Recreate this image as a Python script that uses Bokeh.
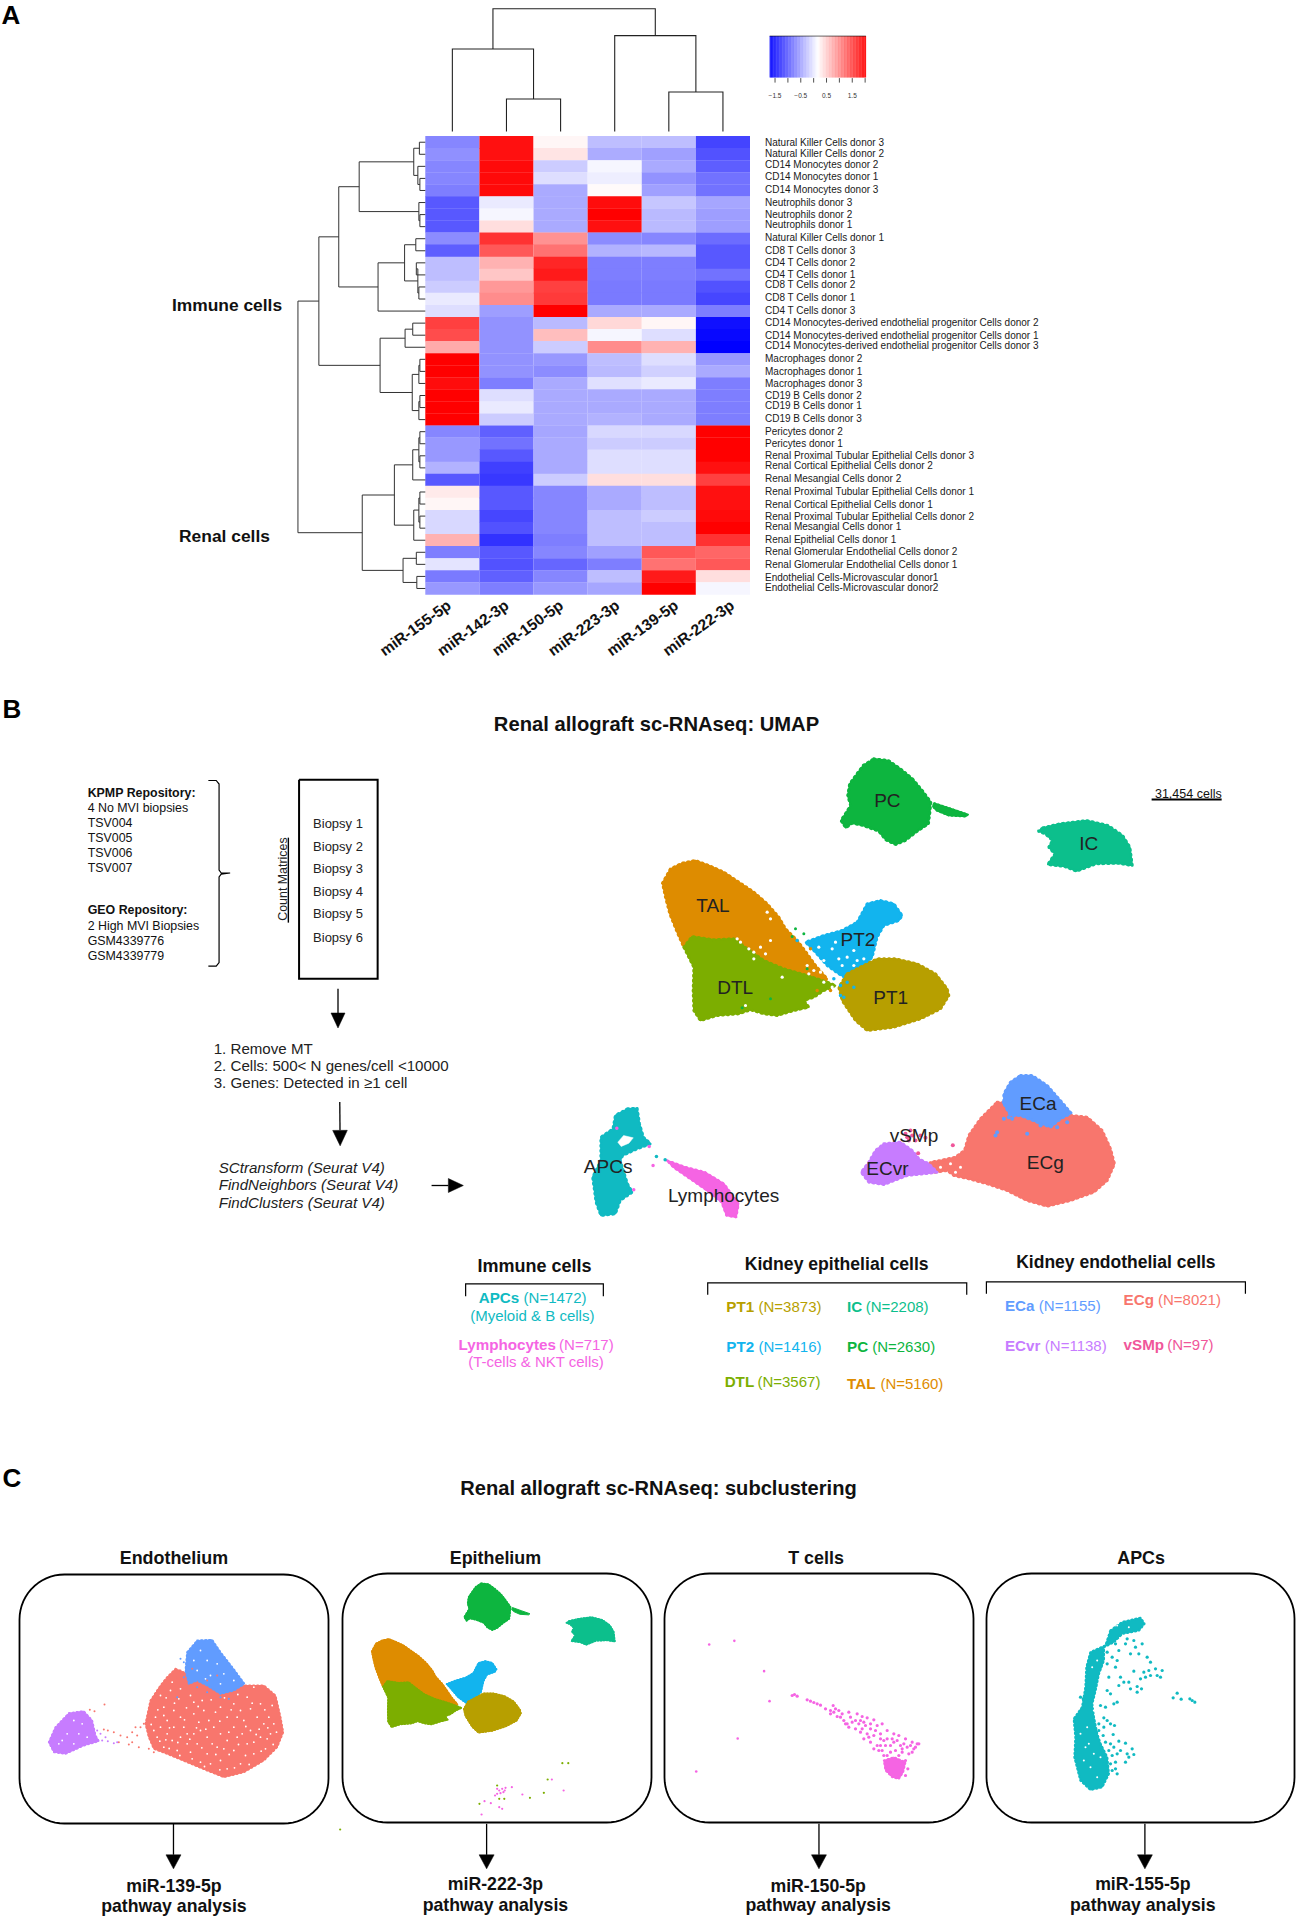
from bokeh.plotting import figure
from bokeh.models import Range1d, LinearColorMapper
from bokeh.core.properties import value
from bokeh.transform import transform
from bokeh.embed import file_html
from bokeh.resources import INLINE
import numpy as np

# ---------- DATA: heatmap ----------
col_labels = ["miR-155-5p", "miR-142-3p", "miR-150-5p", "miR-223-3p", "miR-139-5p", "miR-222-3p"]
row_labels = [
    "Natural Killer Cells donor 3", "Natural Killer Cells donor 2", "CD14 Monocytes donor 2", "CD14 Monocytes donor 1",
    "CD14 Monocytes donor 3", "Neutrophils donor 3", "Neutrophils donor 2", "Neutrophils donor 1",
    "Natural Killer Cells donor 1", "CD8 T Cells donor 3", "CD4 T Cells donor 2", "CD4 T Cells donor 1",
    "CD8 T Cells donor 2", "CD8 T Cells donor 1", "CD4 T Cells donor 3",
    "CD14 Monocytes-derived endothelial progenitor Cells donor 2",
    "CD14 Monocytes-derived endothelial progenitor Cells donor 1",
    "CD14 Monocytes-derived endothelial progenitor Cells donor 3",
    "Macrophages donor 2", "Macrophages donor 1", "Macrophages donor 3", "CD19 B Cells donor 2", "CD19 B Cells donor 1",
    "CD19 B Cells donor 3", "Pericytes donor 2", "Pericytes donor 1", "Renal Proximal Tubular Epithelial Cells donor 3",
    "Renal Cortical Epithelial Cells donor 2", "Renal Mesangial Cells donor 2",
    "Renal Proximal Tubular Epithelial Cells donor 1", "Renal Cortical Epithelial Cells donor 1",
    "Renal Proximal Tubular Epithelial Cells donor 2", "Renal Mesangial Cells donor 1", "Renal Epithelial Cells donor 1",
    "Renal Glomerular Endothelial Cells donor 2", "Renal Glomerular Endothelial Cells donor 1",
    "Endothelial Cells-Microvascular donor1", "Endothelial Cells-Microvascular donor2"]
mir155 = [-0.72,-0.65,-0.72,-0.72,-0.78,-1.06,-1.06,-1.06,-0.68,-1.02,-0.31,-0.31,-0.21,0.01,-0.08,1.56,1.47,0.78,2.03,2.03,1.93,2.03,2.03,2.03,-0.72,-0.59,-0.59,-0.40,-1.06,0.31,0.22,-0.12,-0.12,0.72,-0.78,-0.03,-0.81,-0.59]
mir142 = [1.9,1.9,1.95,1.95,1.95,0.01,0.1,0.4,1.66,1.38,0.72,0.57,0.91,1.0,-0.55,-0.64,-0.64,-0.64,-0.64,-0.64,-0.78,-0.08,0.01,-0.21,-1.0,-0.87,-1.06,-1.24,-1.3,-1.06,-1.06,-1.19,-1.11,-1.34,-1.06,-1.11,-1.0,-0.78]
mir150 = [0.22,0.35,-0.21,-0.08,-0.46,-0.46,-0.46,-0.46,0.95,1.19,1.75,1.84,1.56,1.6,2.03,-0.35,0.63,-0.21,-0.59,-0.68,-0.46,-0.46,-0.46,-0.46,-0.49,-0.46,-0.46,-0.46,-0.21,-0.72,-0.72,-0.72,-0.72,-0.78,-0.72,-0.96,-0.72,-0.59]
mir223 = [-0.31,-0.44,0.1,0.03,0.2,1.93,2.03,1.9,-0.68,-0.40,-0.78,-0.78,-0.81,-0.81,-0.46,0.44,0.1,1.0,-0.31,-0.35,-0.06,-0.46,-0.46,-0.40,-0.12,-0.21,-0.08,-0.08,0.4,-0.46,-0.46,-0.31,-0.31,-0.31,-0.53,-0.78,-0.31,-0.49]
mir139 = [-0.31,-0.53,-0.46,-0.63,-0.53,-0.25,-0.35,-0.35,-0.72,-0.36,-0.78,-0.78,-0.81,-0.81,-0.46,0.22,-0.08,0.72,-0.08,-0.18,0.01,-0.46,-0.46,-0.46,-0.12,-0.21,-0.08,-0.08,0.4,-0.31,-0.31,-0.21,-0.31,-0.31,1.38,1.19,1.84,2.03]
mir222 = [-1.2,-1.1,-1.02,-0.87,-0.87,-0.49,-0.55,-0.55,-0.92,-1.06,-1.06,-0.87,-1.11,-1.19,-0.78,-1.58,-1.65,-1.71,-0.59,-0.46,-0.78,-0.78,-0.78,-0.78,2.03,2.03,2.03,1.9,1.56,1.9,1.9,1.95,2.03,1.66,1.28,1.38,0.4,0.1]
heat_cols = [mir155, mir142, mir150, mir223, mir139, mir222]
colorbar_ticks = [-1.5, -1.0, -0.5, 0.0, 0.5, 1.0, 1.5, 2.0]
colorbar_labels = {-1.5: "\u22121.5", -0.5: "\u22120.5", 0.5: "0.5", 1.5: "1.5"}

# dendrograms: (merge level, child, child); ints are leaves
col_tree = (19, (112, 0, (227, 1, 2)), (81, 3, (211, 4, 5)))
row_tree = (583,
    (624,
        (663,
            (703, (810, (821, 0, 1), (818, 2, (822, 3, 4))), (820, 5, (822, 6, 7))),
            (740, (792, (814, 8, 9), (818, (815, 10, 11), (820, 12, 13))), 14)),
        (744,
            (793, (808, 15, 16), 17),
            (807, (820, (822, 18, 19), 20), (820, (822, 21, 22), 23)))),
    (709,
        (772,
            (808, (820, (822, 24, 25), (822, 26, 27)), 28),
            (810, (820, (822, 29, 30), (822, 31, 32)), 33)),
        (789, (815, 34, 35), (816, 36, 37))))

# ---------- DATA: UMAP cluster outlines ----------
colors = dict(PC="#0DB53F", IC="#0CBF8C", TAL="#DE8C00", DTL="#7CAE00", PT1="#B79F00", PT2="#12B4EE",
              ECg="#F8766D", ECa="#619CFF", ECvr="#C77CFF", vSMp="#F0569A", APC="#10BAC2", LYM="#F564E3")
pc_outline = [(690,55),(720,60),(745,85),(770,115),(790,150),(808,185),(806,215),(803,250),(780,272),(755,300),(735,312),(715,298),(700,272),(668,255),(645,248),(632,262),(622,240),(632,218),(642,195),(636,165),(640,130),(655,100),(668,75)]
pc_tail = [(815,188),(850,205),(885,222),(880,228),(845,225),(820,210),(812,198)]
ic_outline = [(1040,262),(1075,250),(1130,240),(1175,255),(1205,285),(1220,320),(1225,375),(1195,368),(1150,370),(1110,392),(1085,378),(1050,372),(1065,340),(1052,320),(1060,300),(1045,280),(1030,272)]
tal_outline = [(36,98),(60,55),(95,38),(135,30),(175,45),(220,65),(265,95),(310,125),(350,160),(385,200),(405,235),(440,270),(470,310),(495,345),(530,385),(500,410),(400,390),(300,340),(200,310),(130,290),(100,290),(80,245),(58,190),(45,140)]
dtl_outline = [(100,290),(125,258),(190,268),(250,265),(290,295),(340,330),(400,355),(470,375),(530,395),(555,405),(520,420),(490,440),(460,450),(475,470),(430,480),(380,495),(340,490),(300,478),(265,490),(200,495),(150,510),(130,480),(128,420),(130,350)]
pt2_outline = [(620,215),(650,160),(690,150),(730,160),(755,195),(745,210),(700,225),(680,260),(665,320),(640,345),(590,385),(565,370),(530,345),(490,300),(465,275),(520,255),(575,240)]
pt1_outline = [(590,370),(640,345),(680,325),(735,325),(800,340),(855,370),(890,415),(895,435),(870,475),(810,505),(730,530),(650,540),(615,510),(575,450),(565,410)]
epi_gaps = [(350,185),(360,205),(260,265),(270,275),(295,295),(310,305),(330,290),(345,310),(310,325),(360,270),(395,380),(470,345),(490,360),(475,370),(510,365),(540,375),(545,410),(520,395),(500,330),(525,355),(285,465),(505,290),(545,295),(565,325),(590,320),(575,345),(520,330),(555,275),(610,300),(620,330),(640,325),(610,345)]
epi_green = [(435,235),(460,250),(425,258),(360,445),(275,472),(470,355)]
epi_blue = [(570,405),(590,395),(610,410),(570,435),(580,440),(550,385),(440,270)]
epi_tan = [(480,295),(515,378),(475,335),(500,420),(540,420)]
ecg_outline = [(470,125),(520,130),(600,150),(692,165),(740,170),(785,210),(810,265),(822,310),(800,360),(760,395),(690,420),(620,437),(560,420),(500,390),(440,370),(385,355),(340,345),(320,330),(285,335),(255,335),(270,305),(300,300),(345,290),(372,270),(385,225),(420,175)]
eca_outline = [(540,45),(575,45),(620,75),(655,115),(692,158),(660,175),(630,200),(590,185),(540,165),(510,165),(490,130),(490,100),(510,65)]
eca_cells = [(505,170),(520,165),(490,175),(560,220),(470,215),(465,225),(600,190),(650,200),(680,185),(490,125),(515,175),(600,195)]
ecvr_outline = [(130,250),(180,245),(215,270),(235,295),(265,310),(290,335),(250,340),(200,345),(130,372),(85,365),(62,335),(85,305),(105,270)]
vsmp_cells = [(195,220),(205,240),(225,240),(240,225),(210,210),(255,232),(233,278),(337,254),(215,225),(200,230)]
endo_gaps = [(300,320),(330,310),(360,320),(310,345),(345,335)]
apc_outline = [(180,1105),(200,1103),(205,1150),(213,1190),(228,1210),(200,1225),(170,1245),(165,1260),(180,1330),(190,1355),(165,1380),(155,1420),(125,1425),(115,1385),(108,1310),(125,1260),(125,1190),(150,1165),(155,1125)]
apc_hole = [(172,1185),(192,1192),(183,1208),(167,1218),(160,1205)]
lym_outline = [(262,1260),(300,1280),(340,1295),(380,1330),(410,1390),(405,1430),(385,1425),(375,1385),(340,1345),(310,1315),(275,1280)]
lym_cells = [(233,1275),(225,1218),(193,1348),(158,1163)]
apc_cells = [(240,1248),(258,1258)]

# panel C, endothelium subclustering
sub_ecg = [(465,145),(500,160),(570,170),(640,190),(670,195),(730,195),(765,225),(780,290),(788,335),(770,380),(730,420),(670,455),(610,470),(560,450),(500,425),(440,400),(400,385),(385,350),(375,310),(390,240),(420,195),(440,170)]
sub_eca = [(530,60),(575,58),(600,95),(635,140),(672,190),(640,210),(600,220),(560,195),(530,180),(505,190),(495,150),(500,95)]
sub_ecvr = [(145,278),(190,272),(215,300),(225,345),(235,362),(190,375),(135,400),(100,395),(85,365),(105,320)]
sub_ecg_cells = [(320,350),(335,335),(350,345),(360,320),(335,365),(355,380),(325,372),(370,310),(345,320),(385,385),(400,395),(300,345),(280,335),(262,330),(250,327),(295,365),(252,252),(222,272),(208,268),(515,145),(560,180),(590,165),(480,150),(470,170)]
sub_ecvr_cells = [(240,340),(255,350),(262,362),(280,368),(290,365),(245,360),(230,330)]
sub_eca_cells = [(490,170),(530,200),(560,215),(600,230),(625,235),(470,230),(490,125),(480,115)]
sub_gaps = [(450,210),(475,235),(520,245),(545,240),(430,260),(405,290),(440,300),(480,290),(520,280),(565,300),(600,260),(640,250),(680,230),(720,250),(745,290),(710,290),(670,300),(640,320),(600,340),(560,350),(520,340),(480,350),(440,340),(410,350),(430,380),(470,390),(510,395),(560,400),(600,420),(640,390),(680,370),(720,350),(750,340),(760,310),(700,400),(660,430),(620,445),(590,380),(650,350),(490,320),(500,370),(420,320),(460,270),(540,330),(580,320),(620,290),(690,330),(735,385),(550,270),(510,225),(620,360),(570,430),(700,200),(660,270),(730,310),(455,185),(480,205),
            (540,90),(560,120),(590,130),(610,160),(530,150),(570,165),(640,180),(520,120),(600,190),(555,175),(160,300),(185,310),(140,340),(175,340),(200,350),(125,360),(160,370),(115,370),
            (420,225),(400,330),(455,360),(535,305),(585,275),(625,335),(665,340),(700,365),(740,355),(675,405),(540,425),(500,340),(460,320),(430,285),(755,255),(690,265),(650,290),(610,385),(575,370),(530,370),
            (437,232),(462,248),(498,262),(533,258),(572,238),(612,232),(652,222),(695,248),(733,268),(768,335),(758,372),(722,392),(686,432),(642,442),(598,448),(552,438),(515,415),(478,405),(446,384),(418,362),(392,312),(412,268),(447,322),(492,298),(528,322),(556,326),(598,302),(632,268),(676,318),(716,326),(742,322),(707,342),(654,372),(626,402),(586,402),(544,382),(508,356),(472,366),(436,358)]
# panel C, epithelium stray cells
sub_epi_pink = [(1150,1022),(1165,1028),(1185,1040),(1192,1045),(1143,1062),(1240,1002),(1310,957),(1338,990),(1215,980),(1180,985),(1185,990),(1192,985),(1198,990),(1188,998),(1180,1000),(1200,982),(1175,1005),(1195,995)]
sub_epi_olive = [(1138,1030),(1335,908),(1349,908),(1300,957),(1291,997),(1258,1012),(1185,1015),(1197,1015),(1180,975),(807,1107)]
# panel C, T cells
sub_t_strays = [(164,552),(224,541),(295,632),(308,722),(232,834),(133,933)]
sub_t_cells = [(35,45),(42,42),(50,47),(80,58),(90,62),(100,66),(110,70),(120,74),(135,85),(150,90),(158,75),(165,85),(175,90),(185,100),(150,100),(170,108),(190,120),(205,95),(230,100),(245,108),(260,112),(280,118),(215,125),(235,130),(255,135),(270,145),(290,135),(305,130),(320,150),(340,160),(355,165),(375,175),(395,185),(410,190),(400,205),(380,200),(360,195),(340,185),(320,175),(300,160),(280,165),(260,160),(240,155),(225,145),(205,140),(250,175),(270,185),(290,195),(305,210),(320,225),(345,210),(365,215),(385,220),(395,215),(330,195),(345,235),(375,240),(382,265),(375,285),(300,195),(280,205),(310,180),(350,180),(240,120),(195,130),(210,110),(180,110),(160,95),(200,130),(225,120),(250,125),(270,130),(245,145),(265,170),(285,150),(300,175),(315,195),(335,175),(370,190),(390,195),(295,210),(310,225),(330,215),(355,225),(365,205),(405,200),(415,190)]
sub_t_dense = [(310,240),(340,230),(375,245),(368,275),(355,295),(335,290),(315,270)]
# panel C, APCs
sub_apc = [(150,60),(185,35),(240,22),(252,40),(235,60),(185,70),(160,95),(130,110),(130,150),(115,190),(105,240),(95,280),(100,320),(110,370),(120,400),(140,440),(145,490),(125,530),(90,538),(60,510),(42,440),(45,380),(40,325),(65,290),(75,230),(78,170),(90,125),(135,105)]
sub_apc_cells = [(170,80),(200,85),(220,90),(245,100),(260,140),(270,155),(195,100),(175,120),(155,140),(170,150),(140,160),(165,170),(220,182),(145,200),(180,200),(190,215),(175,225),(205,215),(210,235),(230,228),(243,235),(230,245),(140,240),(150,250),(170,275),(160,280),(120,285),(135,290),(250,185),(265,180),(285,175),(305,180),(290,195),(270,195),(255,200),(240,205),(300,200),(350,248),(338,262),(362,266),(388,265),(395,270),(403,275),(130,322),(140,330),(150,340),(162,345),(130,350),(158,372),(175,392),(195,398),(215,415),(180,420),(200,430),(220,432),(205,440),(195,455),(170,430),(165,455),(170,490),(150,400),(160,410),(145,420),(225,110),(210,130),(235,130),(150,85),(165,100),(128,375),(135,395),(120,410),(155,435),(150,460),(155,480),(130,460),(165,475),(115,360),(115,340),(60,260),(68,265),(125,130),(140,125),(120,170)]
sub_apc_gaps = [(95,170),(80,350),(75,410),(100,430),(90,470),(110,500),(60,370),(100,300),(85,400),(120,440),(170,45),(205,50),(110,150),(70,450)]

# ---------- figure ----------
p = figure(width=1297, height=1918, x_range=Range1d(0, 1297), y_range=Range1d(1918, 0),
           toolbar_location=None, output_backend="svg", min_border=0, outline_line_color=None,
           background_fill_color="white", border_fill_color="white")
p.axis.visible = False
p.grid.visible = False

z1 = lambda x, y: (x / 1.96, y / 2.306)
z2 = lambda x, y: (740 + x / 2.815, y / 2.529)
z3 = lambda x, y: (x / 2.8, 690 + y / 2.8)
z4 = lambda x, y: (540 + x / 2.07, 740 + y / 3)
z5 = lambda x, y: (440 + x / 1.83, 1240 + y / 3)
z6 = lambda x, y: (x / 2.376, 1460 + y / 3)
z7 = lambda x, y: (640 + x / 2.387, 1460 + y / 3)
epi_b = lambda x, y: (650 + x / 3, 850 + y / 3)
endo_b = lambda x, y: (840 + x / 3, 1060 + y / 3)
epi_map = lambda x, y: (0.2503 * x + 307.9, 0.1831 * y + 1572.6)
epi_c = lambda x, y: (0.1739 * x + 364.9, 0.1843 * y + 1632.8)
endo_c = lambda x, y: (20 + x / 3, 1620 + y / 3)
apc_c = lambda x, y: (1060 + x / 3, 1610 + y / 3)
t_c = lambda x, y: (780 + x / 3, 1680 + y / 3)


def pts(fn, seq):
    a = [fn(x, y) for x, y in seq]
    return [q[0] for q in a], [q[1] for q in a]


def label(x, y, s, size, bold=False, italic=False, color="#111111", align="left", angle=0.0, baseline="middle"):
    style = "bold italic" if bold and italic else "bold" if bold else "italic" if italic else "normal"
    p.text(x=[x], y=[y], text=[s], text_font=value("Liberation Sans"), text_font_size=f"{size}px",
           text_font_style=style, text_color=color, text_align=align, text_baseline=baseline, angle=angle)


def poly(fn, seq, color, lw=1.5, rim=0.0):
    xs, ys = pts(fn, seq)
    p.patch(xs, ys, fill_color=color, line_color=color, line_width=lw, line_join="round")
    if rim:
        p.line(xs + xs[:1], ys + ys[:1], line_color=color, line_width=rim, line_cap="round",
               line_dash="1 %d" % round(rim + 1))


def dots(fn, seq, color, size=3.0):
    xs, ys = pts(fn, seq)
    p.scatter(xs, ys, size=size, fill_color=color, line_color=None)


def line(points, color="black", lw=1.0):
    xs = [q[0] for q in points]
    ys = [q[1] for q in points]
    p.line(xs, ys, line_color=color, line_width=lw, line_join="miter")


def arrow(fn, tail, tip, half, head):
    (tx, ty), (hx, hy) = fn(*tail), fn(*tip)
    d = np.array([hx - tx, hy - ty], float)
    d /= np.hypot(*d)
    n = np.array([-d[1], d[0]])
    base = np.array([hx, hy]) - d * head
    line([(tx, ty), tuple(base)], lw=1.3)
    tri = [tuple(base + n * half), tuple(base - n * half), (hx, hy)]
    p.patch([q[0] for q in tri], [q[1] for q in tri], fill_color="black", line_color="black", line_width=0.5)


# ---------- panel A ----------
label(1, 14, "A", 26, bold=True, color="black")
hx0, hx1 = 424.8, 749.5
hy0, hy1 = 135.7, 594.0
cw = (hx1 - hx0) / len(col_labels)
rh = (hy1 - hy0) / len(row_labels)
palette = ["#%02x%02xff" % (int(255 * i / 127), int(255 * i / 127)) for i in range(128)] + \
          ["#ff%02x%02x" % (int(255 * (127 - i) / 127), int(255 * (127 - i) / 127)) for i in range(128)]
mapper = LinearColorMapper(palette=palette, low=-1.71, high=2.03)
cx, cy, cz = [], [], []
for j, col in enumerate(heat_cols):
    for i, v in enumerate(col):
        cx.append(hx0 + (j + 0.5) * cw)
        cy.append(hy0 + (i + 0.5) * rh)
        cz.append(v)
p.rect(x="x", y="y", width=cw, height=rh + 0.3, source=dict(x=cx, y=cy, z=cz),
       fill_color=transform("z", mapper), line_color=None)

row_label_y = [358,388,414,446,478,510,540,567,599,631,663,693,719,751,783,815,847,873,905,937,968,998,1024,1056,1089,1121,1151,1177,1209,1241,1274,1304,1330,1362,1394,1427,1458,1484]
for s, yy in zip(row_labels, row_label_y):
    label(z2(69, 0)[0], z2(0, yy)[1], s, 10, color="#1a1a1a")

for s, xz in zip(col_labels, [885, 998, 1105, 1215, 1330, 1440]):
    label(xz / 1.96 - 3, 1392 / 2.306 - 1, s, 15.5, bold=True, align="right", angle=np.radians(36), color="#111111")

label(*z1(444, 702), "Immune cells", 17.4, bold=True, align="center")
label(*z1(439, 1235), "Renal cells", 17.4, bold=True, align="center")


def draw_col(node):
    if isinstance(node, int):
        return hx0 + (node + 0.5) * cw, 131.0
    lev, a, b = node
    yy = lev / 2.306
    xa, ya = draw_col(a)
    xb, yb = draw_col(b)
    line([(xa, ya), (xa, yy), (xb, yy), (xb, yb)], color="#222222", lw=1.1)
    return (xa + xb) / 2, yy


def draw_row(node):
    if isinstance(node, int):
        return hx0, hy0 + (node + 0.5) * rh
    lev, a, b = node
    xx = lev / 1.96
    xa, ya = draw_row(a)
    xb, yb = draw_row(b)
    line([(xa, ya), (xx, ya), (xx, yb), (xb, yb)], color="#333333", lw=1.0)
    return xx, (ya + yb) / 2


draw_col(col_tree)
draw_row(row_tree)

# colour bar
bx0, _ = z2(82, 0)
bx1, _ = z2(353, 0)
_, by0 = z2(0, 90)
_, by1 = z2(0, 195)
grad = np.linspace(-1.71, 2.03, 128)
edges = np.linspace(bx0, bx1, 129)
p.quad(left="l", right="r", top="t", bottom="b",
       source=dict(l=edges[:-1], r=edges[1:] + 0.2, t=[by0] * 128, b=[by1] * 128, z=grad),
       fill_color=transform("z", mapper), line_color=None)
line([(bx0, by0), (bx1, by0)], lw=0.6)
tick_px = lambda t: bx0 + (t + 1.71) / 3.74 * (bx1 - bx0)
for t in colorbar_ticks:
    line([(tick_px(t), by1 + 0.5), (tick_px(t), by1 + 5)], color="#222222", lw=0.8)
    if t in colorbar_labels:
        label(tick_px(t), 94.5, colorbar_labels[t], 6.5, align="center", color="#333333")

# ---------- panel B ----------
label(2, 708, "B", 26, bold=True, color="black")
label(656, 723, "Renal allograft sc-RNAseq: UMAP", 20.2, bold=True, align="center")
left_text = [(287, "KPMP Repository:", True), (329, "4 No MVI biopsies", False), (372, "TSV004", False), (414, "TSV005", False),
             (456, "TSV006", False), (498, "TSV007", False), (615, "GEO Repository:", True), (658, "2 High MVI Biopsies", False),
             (700, "GSM4339776", False), (742, "GSM4339779", False)]
for yy, s, b in left_text:
    label(*z3(244, yy), s, 12.4, bold=b, color="#111111")
line([z3(*q) for q in [(582,252),(604,252),(612,262),(612,503),(618,511),(643,511),(618,514),(612,522),(612,762),(604,772),(582,772)]], lw=1.2)
line([z3(*q) for q in [(836,250),(1056,250),(1056,807),(836,807),(836,250)]], lw=2.0)
for yy, s in zip([372,438,498,564,625,692], ["Biopsy 1","Biopsy 2","Biopsy 3","Biopsy 4","Biopsy 5","Biopsy 6"]):
    label(*z3(945, yy), s, 13, align="center", color="#222222")
label(*z3(792, 528), "Count Matrices", 12.4, align="center", angle=np.pi / 2, color="#222222")
line([z3(806, 412), z3(806, 650)], lw=1.4)
arrow(z3, (945, 835), (945, 945), 7, 15)
arrow(z3, (950, 1152), (951, 1275), 7.3, 15.5)
for yy, s in zip([1002,1049,1098], ["1. Remove MT", "2. Cells: 500< N genes/cell <10000", "3. Genes: Detected in \u22651 cell"]):
    label(*z3(597, yy), s, 15.1, color="#222222")
for yy, s in zip([1335,1384,1434], ["SCtransform (Seurat V4)", "FindNeighbors (Seurat V4)", "FindClusters (Seurat V4)"]):
    label(*z3(611, yy), s, 15.1, italic=True, color="#222222")
arrow(z3, (1207, 1386), (1296, 1386), 7, 15)

poly(z4, pc_outline, colors["PC"], rim=3)
poly(z4, pc_tail, colors["PC"], rim=2)
poly(z4, ic_outline, colors["IC"], rim=3)
poly(epi_b, tal_outline, colors["TAL"], rim=3)
poly(epi_b, dtl_outline, colors["DTL"], rim=3)
poly(epi_b, pt2_outline, colors["PT2"], rim=3)
poly(epi_b, pt1_outline, colors["PT1"], rim=3)
dots(epi_b, epi_gaps, "white", 3.2)
dots(epi_b, epi_green, colors["PC"], 3)
dots(epi_b, epi_blue, colors["PT2"], 3.5)
dots(epi_b, epi_tan, colors["TAL"], 3.5)
poly(endo_b, ecg_outline, colors["ECg"], rim=3)
poly(endo_b, eca_outline, colors["ECa"], rim=3)
dots(endo_b, eca_cells, colors["ECa"], 4)
poly(endo_b, ecvr_outline, colors["ECvr"], rim=3)
dots(endo_b, endo_gaps, "white", 3)
dots(endo_b, vsmp_cells, colors["vSMp"], 4)
poly(z4, apc_outline, colors["APC"], rim=3)
poly(z4, apc_hole, "white", 0.5)
poly(z4, lym_outline, colors["LYM"], rim=2.5)
dots(z4, lym_cells, colors["LYM"], 3.5)
dots(z4, apc_cells, colors["APC"], 3.5)

for (xz, yz, s) in [(718,180,"PC"), (1135,310,"IC"), (357,495,"TAL"), (657,598,"PT2"), (403,740,"DTL"), (725,770,"PT1"),
                    (1030,1090,"ECa"), (1045,1265,"ECg"), (773,1185,"vSMp"), (718,1285,"ECvr"), (140,1277,"APCs"), (379,1365,"Lymphocytes")]:
    label(*z4(xz, yz), s, 19, align="center", color="#222222")
label(*z4(1341, 160), "31,454 cells", 12.5, align="center", color="#111111")
line([z4(1265, 177), z4(1410, 177)], lw=1.8)

for (xz, yz, s, sz) in [(172,76,"Immune cells",18), (725,70,"Kidney epithelial cells",17.6), (1236,65,"Kidney endothelial cells",17.5)]:
    label(*z5(xz, yz), s, sz, bold=True, align="center")
for q in [[(46,167),(46,130),(298,130),(298,167)], [(489,163),(489,127),(963,127),(963,163)], [(999,160),(999,124),(1473,124),(1473,160)]]:
    line([z5(*a) for a in q], lw=1.2)

legend_items = [(70,152,172,"APCs","(N=1472)","APC"), (33,217,313,"Lymphocytes","(N=717)","LYM"),
                (523,582,197,"PT1","(N=3873)","PT1"), (744,778,198,"IC","(N=2208)","IC"),
                (523,582,317,"PT2","(N=1416)","PT2"), (744,790,318,"PC","(N=2630)","PC"),
                (520,580,422,"DTL","(N=3567)","DTL"), (744,805,428,"TAL","(N=5160)","TAL"),
                (1033,1095,195,"ECa","(N=1155)","ECa"), (1250,1313,178,"ECg","(N=8021)","ECg"),
                (1033,1106,315,"ECvr","(N=1138)","ECvr"), (1250,1330,313,"vSMp","(N=97)","vSMp")]
for xa, xb, yz, s, n, c in legend_items:
    label(*z5(xa, yz), s, 15.2, bold=True, color=colors[c])
    label(*z5(xb, yz), n, 15, color=colors[c])
label(*z5(168, 225), "(Myeloid & B cells)", 15, align="center", color=colors["APC"])
label(*z5(175, 362), "(T-cells & NKT cells)", 15, align="center", color=colors["LYM"])

# ---------- panel C ----------
label(2, 1477, "C", 26, bold=True, color="black")
label(658, 1487, "Renal allograft sc-RNAseq: subclustering", 20.1, bold=True, align="center")


def round_box(l, r, t, b, rad=45):
    ang = np.linspace(0, np.pi / 2, 16)
    xs = np.concatenate([l + rad - rad * np.cos(ang), r - rad + rad * np.sin(ang),
                         r - rad + rad * np.cos(ang), l + rad - rad * np.sin(ang), [l]])
    ys = np.concatenate([t + rad - rad * np.sin(ang), t + rad - rad * np.cos(ang),
                         b - rad + rad * np.sin(ang), b - rad + rad * np.cos(ang), [t + rad]])
    p.line(xs, ys, line_color="black", line_width=1.8)


for l, r, t, b in [(19, 328, 1574, 1823), (342, 651, 1573, 1822), (664, 973, 1573, 1822), (986, 1294, 1573, 1822)]:
    round_box(l, r, t, b)

poly(endo_c, sub_ecg, colors["ECg"], 1, rim=2)
poly(endo_c, sub_eca, colors["ECa"], 1, rim=2)
poly(endo_c, sub_ecvr, colors["ECvr"], 1, rim=2)
dots(endo_c, sub_gaps, "white", 1.8)
dots(endo_c, sub_ecg_cells, colors["ECg"], 2)
dots(endo_c, sub_ecvr_cells, colors["ECvr"], 2)
dots(endo_c, sub_eca_cells, colors["ECa"], 2)

poly(epi_map, pc_outline, colors["PC"], 1, rim=1.5)
poly(epi_map, pc_tail, colors["PC"], 1)
poly(epi_map, ic_outline, colors["IC"], 1, rim=1.5)
poly(epi_c, tal_outline, colors["TAL"], 1, rim=1.5)
poly(epi_c, dtl_outline, colors["DTL"], 1, rim=1.5)
poly(epi_c, pt2_outline, colors["PT2"], 1, rim=1.5)
poly(epi_c, pt1_outline, colors["PT1"], 1, rim=1.5)
dots(z6, sub_epi_pink, colors["LYM"], 2.2)
dots(z6, sub_epi_olive, colors["DTL"], 2.2)

dots(z7, sub_t_strays, colors["LYM"], 2.6)
dots(t_c, sub_t_cells, colors["LYM"], 3.2)
poly(t_c, sub_t_dense, colors["LYM"], 1, rim=2)
poly(apc_c, sub_apc, colors["APC"], 1, rim=2.4)
dots(apc_c, sub_apc_gaps, "white", 2)
dots(apc_c, sub_apc_cells, colors["APC"], 3.2)

for fn, xz, s, mir, xm, ym1, ym2, xa in [
    (z6, 412, "Endothelium", "miR-139-5p", 412, 1275, 1337, 411),
    (z6, 1176, "Epithelium", "miR-222-3p", 1176, 1270, 1332, 1155),
    (z7, 419, "T cells", "miR-150-5p", 424, 1275, 1333, 426),
    (z7, 1195, "APCs", "miR-155-5p", 1199, 1270, 1332, 1204)]:
    label(*fn(xz, 292), s, 17.9, bold=True, align="center")
    label(*fn(xm, ym1), mir, 17.7, bold=True, align="center")
    label(*fn(xm, ym2), "pathway analysis", 17.7, bold=True, align="center")
    arrow(fn, (xa, 1090), (xa, 1225), 7.5, 14)

open("out.html", "w").write(file_html(p, INLINE))
